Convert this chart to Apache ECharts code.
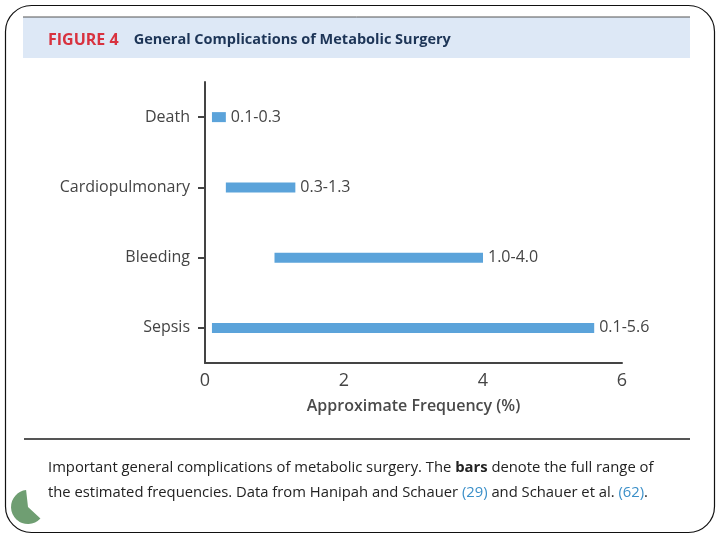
<!DOCTYPE html>
<html><head><meta charset="utf-8">
<script src="https://cdn.jsdelivr.net/npm/echarts@6/dist/echarts.min.js"></script>
<style>html,body{margin:0;padding:0;background:#fff}#c{width:720px;height:540px}</style>
</head><body><div id="c"></div>
<script>
var categories = ['Death', 'Cardiopulmonary', 'Bleeding', 'Sepsis'];
var rangeStart = [0.1, 0.3, 1.0, 0.1];
var rangeEnd = [0.3, 1.3, 4.0, 5.6];
var rangeLabels = ['0.1-0.3', '0.3-1.3', '1.0-4.0', '0.1-5.6'];
var xTicks = [0, 2, 4, 6];

var font = '"Open Sans", "Noto Sans", sans-serif';
var chart = echarts.init(document.getElementById('c'));
var spans = rangeEnd.map(function (e, i) { return +(e - rangeStart[i]).toFixed(2); });

chart.setOption({
  animation: false,
  graphic: [
    { type: 'rect', shape: { x: 5.5, y: 5.5, width: 709, height: 527, r: 26 }, style: { fill: 'none', stroke: '#111', lineWidth: 1.2 }, z: 0 },
    { type: 'rect', shape: { x: 23, y: 17, width: 667, height: 41 }, style: { fill: '#dde8f6' }, z: 1 },
    { type: 'line', shape: { x1: 23, y1: 17, x2: 690, y2: 17 }, style: { stroke: '#555', lineWidth: 1 }, z: 2 },
    { type: 'text', x: 48, y: 32, z: 3, style: {
      text: '{r|FIGURE 4}{g|    General Complications of Metabolic Surgery}',
      rich: {
        r: { fill: '#d8323f', fontWeight: 'bold', fontSize: 16, fontFamily: font },
        g: { fill: '#1d3557', fontWeight: 'bold', fontSize: 14.5, fontFamily: font }
      } } },
    { type: 'line', shape: { x1: 24, y1: 439, x2: 690, y2: 439 }, style: { stroke: '#555', lineWidth: 2 }, z: 2 },
    { type: 'text', x: 48, y: 455, z: 3, style: {
      text: '{n|Important general complications of metabolic surgery. The }{b|bars}{n| denote the full range of}\n{n|the estimated frequencies. Data from Hanipah and Schauer }{l|(29)}{n| and Schauer et al. }{l|(62)}{n|.}',
      rich: {
        n: { fill: '#222', fontSize: 14.8, fontFamily: font, lineHeight: 25 },
        b: { fill: '#222', fontSize: 14.8, fontWeight: 'bold', fontFamily: font, lineHeight: 25 },
        l: { fill: '#3b8fc8', fontSize: 14.8, fontFamily: font, lineHeight: 25 }
      } } },
    { type: 'sector', z: 3, shape: { cx: 28, cy: 507, r0: 0, r: 17, startAngle: 0.75, endAngle: 4.6, clockwise: true }, style: { fill: '#6f9e72' } }
  ],
  grid: { left: 205, right: 98, top: 82, bottom: 177, containLabel: false },
  xAxis: {
    type: 'value', min: xTicks[0], max: xTicks[xTicks.length - 1], interval: 2,
    axisLine: { show: true, lineStyle: { color: '#444', width: 2 } },
    axisTick: { show: false }, splitLine: { show: false },
    axisLabel: { color: '#444', fontSize: 18, fontFamily: font, margin: 9 },
    name: 'Approximate Frequency (%)', nameLocation: 'middle', nameGap: 35,
    nameTextStyle: { color: '#4a4a4a', fontSize: 16, fontWeight: 600, fontFamily: font }
  },
  yAxis: {
    type: 'category', data: categories, inverse: true,
    axisLine: { show: true, lineStyle: { color: '#444', width: 2 } },
    axisTick: { show: true, alignWithLabel: true, length: 7, lineStyle: { color: '#444', width: 2 } },
    axisLabel: { color: '#444', fontSize: 16, fontFamily: font, margin: 15 }
  },
  series: [
    { type: 'bar', stack: 'r', data: rangeStart, barWidth: 10, itemStyle: { color: 'transparent' }, silent: true },
    { type: 'bar', stack: 'r', data: spans, barWidth: 10, itemStyle: { color: '#5ba3da' },
      label: { show: true, position: 'right', distance: 5, color: '#444', fontSize: 16, fontFamily: font,
        formatter: function (p) { return rangeLabels[p.dataIndex]; } } }
  ]
});
</script></body></html>
